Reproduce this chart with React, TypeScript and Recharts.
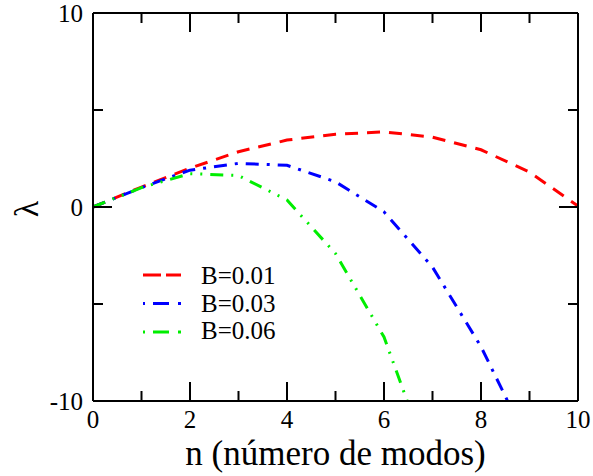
import React from 'react';
import { LineChart, Line, XAxis, YAxis, Legend } from 'recharts';

const nValues = [0, 1, 2, 3, 4, 5, 6, 7, 8, 9, 10];
const lambdaB001 = [0, 1.03, 2.0, 2.85, 3.45, 3.75, 3.87, 3.6, 2.95, 1.8, 0.05];
const lambdaB003 = [0, 1.0, 1.9, 2.25, 2.15, 1.3, -0.25, -3.1, -7.2, -12.3, null];
const lambdaB006 = [0, 1.0, 1.72, 1.62, 0.36, -2.4, -6.7, -13.6, null, null, null];

const seriesNames = ['B=0.01', 'B=0.03', 'B=0.06'];
const seriesKeys = ['b001', 'b003', 'b006'];
const seriesColors = ['#ff0000', '#0000ff', '#00ee00'];
const seriesDashes = ['13 9', '13 8 3 8', '13 8 2 8 2 8'];
const legendDashes = ['18 5 15', '2 8 16 9 3', '2 8 16 9 3'];

const xTicks = [0, 1, 2, 3, 4, 5, 6, 7, 8, 9, 10];
const yTicks = [-10, -5, 0, 5, 10];

const xTitle = 'n (número de modos)';
const yTitle = 'λ';

const data = nValues.map((n, i) => ({
  n,
  b001: lambdaB001[i],
  b003: lambdaB003[i],
  b006: lambdaB006[i],
}));

const FONT = "'Liberation Serif', 'Times New Roman', 'DejaVu Serif', serif";

const BottomTick = (props: any) => {
  const { x, y, payload } = props;
  const v = payload.value;
  const major = v % 2 === 0;
  return (
    <g>
      <line x1={x} x2={x} y1={y} y2={y - (major ? 19 : 10)} stroke="#000" strokeWidth={2} />
      {major && (
        <text x={x} y={y + 27} textAnchor="middle" style={{ fontSize: 25, fontFamily: FONT }} fill="#000">
          {v}
        </text>
      )}
    </g>
  );
};

const TopTick = (props: any) => {
  const { x, y, payload } = props;
  const v = payload.value;
  const major = v % 2 === 0;
  return <line x1={x} x2={x} y1={y} y2={y + (major ? 19 : 10)} stroke="#000" strokeWidth={2} />;
};

const LeftTick = (props: any) => {
  const { x, y, payload } = props;
  const v = payload.value;
  const major = v % 10 === 0;
  return (
    <g>
      <line x1={x} x2={x + (major ? 19 : 10)} y1={y} y2={y} stroke="#000" strokeWidth={2} />
      {major && (
        <text x={x - 10} y={y + 9} textAnchor="end" style={{ fontSize: 25, fontFamily: FONT }} fill="#000">
          {v}
        </text>
      )}
    </g>
  );
};

const RightTick = (props: any) => {
  const { x, y, payload } = props;
  const v = payload.value;
  const major = v % 10 === 0;
  return <line x1={x} x2={x - (major ? 19 : 10)} y1={y} y2={y} stroke="#000" strokeWidth={2} />;
};

const renderLegend = () => (
  <svg width={170} height={95}>
    {seriesNames.map((name, i) => (
      <g key={name}>
        <line
          x1={3}
          x2={41}
          y1={17 + i * 28.5}
          y2={17 + i * 28.5}
          stroke={seriesColors[i]}
          strokeWidth={3}
          strokeDasharray={legendDashes[i]}
        />
        <text x={61} y={26 + i * 27.5} style={{ fontSize: 25, fontFamily: FONT }} fill="#000">
          {name}
        </text>
      </g>
    ))}
  </svg>
);

export default function App() {
  return (
    <div style={{ width: 593, height: 476, background: '#fff' }}>
      <style>{`body{margin:0;}`}</style>
      <LineChart
        width={593}
        height={476}
        data={data}
        margin={{ top: 12, right: 14, bottom: 0, left: 0 }}
      >
        <XAxis
          xAxisId="bottom"
          dataKey="n"
          type="number"
          domain={[0, 10]}
          ticks={xTicks}
          interval={0}
          height={75}
          tickSize={0}
          tickMargin={0}
          tickLine={false}
          axisLine={{ stroke: '#000', strokeWidth: 2 }}
          tick={<BottomTick />}
          label={{
            content: (p: any) => {
              const vb = p.viewBox;
              return (
                <text
                  x={vb.x + vb.width / 2}
                  y={vb.y + 64}
                  textAnchor="middle"
                  style={{ fontSize: 35, fontFamily: FONT }}
                  fill="#000"
                >
                  {xTitle}
                </text>
              );
            },
          }}
        />
        <XAxis
          xAxisId="top"
          dataKey="n"
          type="number"
          orientation="top"
          domain={[0, 10]}
          ticks={xTicks}
          interval={0}
          height={1}
          tickSize={0}
          tickMargin={0}
          tickLine={false}
          axisLine={{ stroke: '#000', strokeWidth: 2 }}
          tick={<TopTick />}
        />
        <YAxis
          yAxisId="left"
          type="number"
          domain={[-10, 10]}
          ticks={yTicks}
          interval={0}
          width={93}
          tickSize={0}
          tickMargin={0}
          tickLine={false}
          allowDataOverflow
          axisLine={{ stroke: '#000', strokeWidth: 2 }}
          tick={<LeftTick />}
          label={{
            content: (p: any) => {
              const vb = p.viewBox;
              const cx = vb.x + 26;
              const cy = vb.y + vb.height / 2 + 2;
              return (
                <text
                  transform={`translate(${cx},${cy}) rotate(-90)`}
                  textAnchor="middle"
                  dominantBaseline="central"
                  style={{ fontSize: 34, fontFamily: FONT }}
                  fill="#000"
                >
                  {yTitle}
                </text>
              );
            },
          }}
        />
        <YAxis
          yAxisId="right"
          orientation="right"
          type="number"
          domain={[-10, 10]}
          ticks={yTicks}
          interval={0}
          width={1}
          tickSize={0}
          tickMargin={0}
          tickLine={false}
          allowDataOverflow
          axisLine={{ stroke: '#000', strokeWidth: 2 }}
          tick={<RightTick />}
        />
        {seriesKeys.map((k, i) => (
          <Line
            key={k}
            xAxisId="bottom"
            yAxisId="left"
            type="linear"
            dataKey={k}
            name={seriesNames[i]}
            stroke={seriesColors[i]}
            strokeWidth={3}
            strokeDasharray={seriesDashes[i]}
            dot={false}
            activeDot={false}
            connectNulls={false}
            isAnimationActive={false}
          />
        ))}
        <Legend
          layout="vertical"
          align="center"
          verticalAlign="middle"
          content={renderLegend}
          wrapperStyle={{ left: 140, top: 258, width: 170, height: 95 }}
        />
      </LineChart>
    </div>
  );
}
